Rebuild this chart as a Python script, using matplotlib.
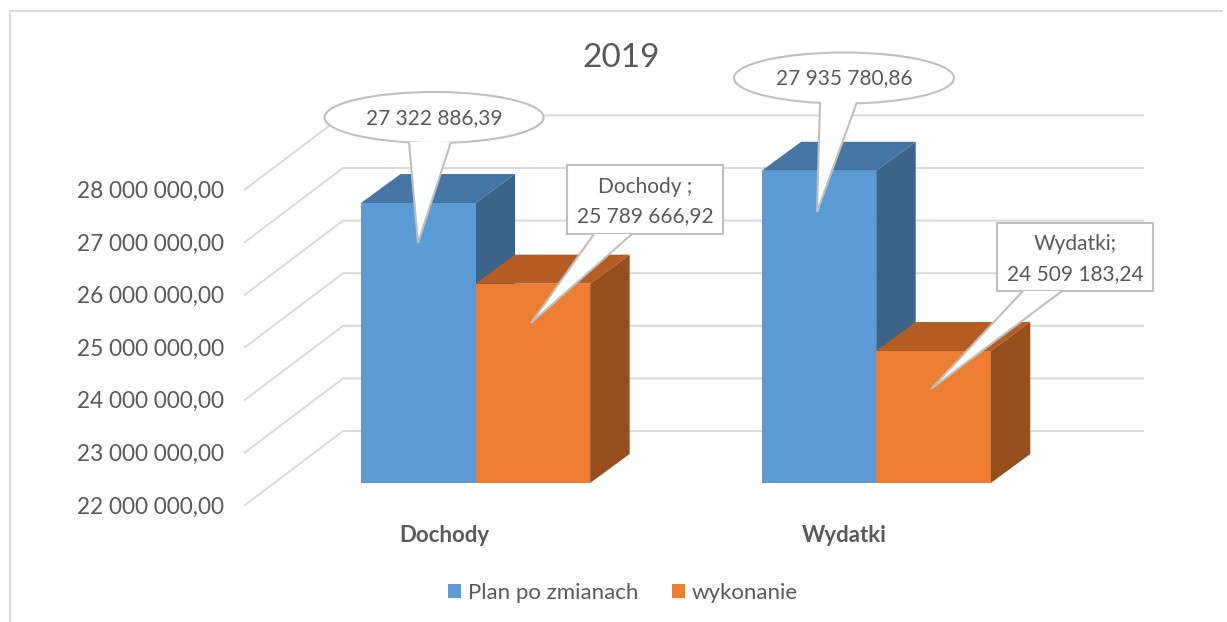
import matplotlib
matplotlib.use("Agg")
import matplotlib.pyplot as plt
from matplotlib.patches import Polygon, Ellipse, Rectangle
from matplotlib.transforms import IdentityTransform
import numpy as np

plt.rcParams['font.family'] = ['Lato', 'DejaVu Sans']

categories = ["Dochody", "Wydatki"]
plan = [27322886.39, 27935780.86]
wykonanie = [25789666.92, 24509183.24]
ticks = [22000000, 23000000, 24000000, 25000000, 26000000, 27000000, 28000000]
series_names = ["Plan po zmianach", "wykonanie"]

W, H = 1227, 622
GREY = "#595959"
GRID = "#D9D9D9"
CALLOUT = "#BFBFBF"

# pixels per unit, used to fake the 3d depth
PX_CAT = 400.5
PX_VAL = 52.6 / 1e6
FLOOR_DX, FLOOR_DY = 31.5, 22
BAR_DX, BAR_DY = 39.5, 29
WALL_DX, WALL_DY = 98, 74
BAR_W = 0.286


def shift(c, v, dx, dy):
    return (c + dx / PX_CAT, v + dy / PX_VAL)


def px(x, y):
    return (x, H - y)


fig = plt.figure(figsize=(W / 100, H / 100), dpi=100)
ax = fig.add_axes([245 / W, 1 - 505 / H, (1045 - 245) / W, (505 - 189.4) / H])
ax.set_xlim(-0.4969, 1.5)
ax.set_ylim(22000000, 28000000)
ax.set_facecolor("none")
for s in ax.spines.values():
    s.set_visible(False)

x = np.arange(len(categories))
ax.set_xticks(x)
ax.set_xticklabels(categories, fontsize=16, fontweight="bold", color=GREY)
ax.set_yticks(ticks)
ax.set_yticklabels([f"{t:,.2f}".replace(",", " ").replace(".", ",") for t in ticks], fontsize=16.3, color=GREY)
ax.tick_params(axis="both", length=0)
ax.tick_params(axis="y", pad=15)
ax.tick_params(axis="x", pad=14.5)

# floor + wall grid
x0, x1 = ax.get_xlim()
for t in ticks:
    pts = [(x0, t), shift(x0, t, WALL_DX, WALL_DY), shift(x1, t, WALL_DX, WALL_DY)]
    ax.plot(*zip(*pts), color=GRID, lw=1.4, clip_on=False, zorder=1, solid_joinstyle="miter")

base = ticks[0]


def bar3d(c, val, front, top, side, z, label=None):
    left = c - BAR_W / 2
    right = c + BAR_W / 2
    fx, fy = shift(c, base, FLOOR_DX, FLOOR_DY)
    ax.bar(fx, val - base, BAR_W, bottom=fy, color=front, zorder=z + 0.2, clip_on=False, label=label)
    corners = [
        shift(right, base, FLOOR_DX, FLOOR_DY),
        shift(right, val, FLOOR_DX, FLOOR_DY),
        shift(right, val, FLOOR_DX + BAR_DX, FLOOR_DY + BAR_DY),
        shift(right, base, FLOOR_DX + BAR_DX, FLOOR_DY + BAR_DY),
    ]
    ax.add_patch(Polygon(corners, color=side, lw=0, zorder=z, clip_on=False))
    corners = [
        shift(left, val, FLOOR_DX, FLOOR_DY),
        shift(left, val, FLOOR_DX + BAR_DX, FLOOR_DY + BAR_DY),
        shift(right, val, FLOOR_DX + BAR_DX, FLOOR_DY + BAR_DY),
        shift(right, val, FLOOR_DX, FLOOR_DY),
    ]
    ax.add_patch(Polygon(corners, color=top, lw=0, zorder=z + 0.1, clip_on=False))


for i in x:
    bar3d(i - BAR_W / 2, plan[i], "#5B9BD5", "#4575A3", "#3A6488", 3, series_names[0] if i == 0 else None)
    bar3d(i + BAR_W / 2, wykonanie[i], "#ED7D31", "#B55D22", "#964E1C", 4, series_names[1] if i == 0 else None)

ident = IdentityTransform()


def add_patch(p):
    p.set_transform(ident)
    p.set_clip_on(False)
    fig.add_artist(p)


def ftext(xp, yp, s, size=15):
    fig.text(xp / W, 1 - yp / H, s, ha="center", va="center", fontsize=size, color=GREY, zorder=20)


def ellipse_callout(cx, cy, rx, ry, tail):
    add_patch(Ellipse(px(cx, cy), 2 * rx, 2 * ry, fc="white", ec=CALLOUT, lw=1.5, zorder=10))
    add_patch(Polygon([px(*p) for p in tail], closed=False, fc="white", ec=CALLOUT, lw=1.5, zorder=11, joinstyle="miter"))


def box_callout(x0p, y0p, x1p, y1p, tail):
    add_patch(Rectangle(px(x0p, y1p), x1p - x0p, y1p - y0p, fc="white", ec=CALLOUT, lw=1.5, zorder=10))
    add_patch(Polygon([px(*p) for p in tail], closed=False, fc="white", ec=CALLOUT, lw=1.5, zorder=11, joinstyle="miter"))


def pl(v):
    return f"{v:,.2f}".replace(",", " ").replace(".", ",")


ellipse_callout(434, 117.5, 109.5, 25.5, [(409, 142), (418, 243), (451, 142)])
ftext(434, 118, pl(plan[0]))
ellipse_callout(844, 78, 110, 25.5, [(820, 102), (817, 212), (857, 102)])
ftext(844, 78, pl(plan[1]))
box_callout(567, 165, 723, 234, [(594, 234), (531, 323), (632, 234)])
ftext(645, 187, categories[0] + " ;")
ftext(645, 216, pl(wykonanie[0]))
box_callout(997, 223, 1153, 291, [(1023, 291), (931, 389), (1062, 291)])
ftext(1075, 244, categories[1] + ";")
ftext(1075, 274, pl(wykonanie[1]))

fig.text(621 / W, 1 - 58 / H, "2019", ha="center", va="center", fontsize=24, color=GREY)

# outer border of the pasted chart, only top and left show
fig.add_artist(plt.Line2D([10 / W, 10 / W, 1222 / W], [0, 1 - 11 / H, 1 - 11 / H], color=GRID, lw=1.4))

ax.legend(loc="center", bbox_to_anchor=(623 / W, 1 - 593 / H), bbox_transform=fig.transFigure, ncol=2,
          frameon=False, fontsize=16, labelcolor=GREY, handlelength=0.6, handleheight=0.6,
          handletextpad=0.3, columnspacing=1.5)

fig.savefig("out.png", dpi=100)
